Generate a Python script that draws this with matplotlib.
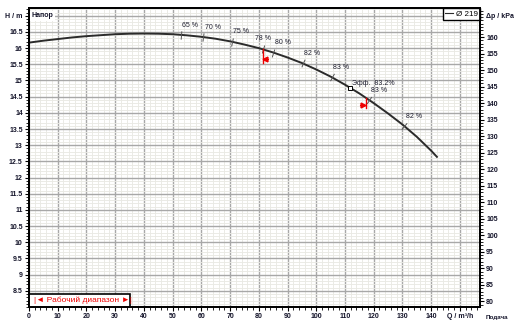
import numpy as np
import matplotlib
matplotlib.use('Agg')
import matplotlib.pyplot as plt
from matplotlib.lines import Line2D
from matplotlib.patches import Rectangle

plt.rcParams['font.family'] = ['Liberation Sans', 'DejaVu Sans']

# pump curve, impeller diameter 219
flow = [0, 5, 10, 15, 20, 25, 30, 35, 40, 45, 50, 55, 60, 65, 70, 75, 80,
        85, 90, 95, 100, 105, 110, 115, 120, 125, 130, 135, 140, 142]
head = [16.17, 16.23, 16.28, 16.33, 16.37, 16.40, 16.43, 16.445, 16.45, 16.445,
        16.43, 16.395, 16.35, 16.29, 16.21, 16.11, 16.00, 15.865, 15.71, 15.54,
        15.34, 15.12, 14.87, 14.60, 14.30, 13.98, 13.64, 13.26, 12.83, 12.64]

# efficiency marks on the curve
eff_flow = [52.8, 60.7, 70.6, 81.4, 85.1, 95.3, 105.4, 118.5, 130.6]
eff_text = ['65 %', '70 %', '75 %', '78 %', '80 %', '82 %', '83 %', '83 %', '82 %']

# best efficiency point
bep_flow = 111.8
bep_text = 'Эфф.  83.2%'

# working range
range_start = 81.4
range_end = 117.2

x_ticks = list(range(0, 160, 10))
x_labels = [str(v) for v in range(0, 150, 10)] + ['Q / m³/h']
h_ticks = [8.5 + 0.5 * i for i in range(18)]
h_labels = ['%g' % v for v in h_ticks[:-1]] + ['H / m']
kpa_ticks = list(range(80, 165, 5))

KPA_PER_M = 9.79
XMAX = 157
HMIN, HMAX = 8.0, 17.24

txt_col = '#14142a'

fig = plt.figure(figsize=(5.19, 3.26), dpi=100)
ax = fig.add_axes([29 / 519, 19 / 326, 451 / 519, 299 / 326])
ax.set_xlim(0, XMAX)
ax.set_ylim(HMIN, HMAX)

# grid
ax.set_xticks(x_ticks)
ax.set_xticks(np.arange(0, XMAX, 2), minor=True)
ax.set_yticks(h_ticks)
ax.set_yticks(np.arange(8.0, HMAX, 0.1), minor=True)
ax.set_xticklabels(x_labels)
ax.set_yticklabels(h_labels)
ax.grid(which='major', color='#a8a8a8', lw=1.0, zorder=0)
ax.grid(which='minor', color='#e9e9e4', lw=0.65, zorder=0)
ax.set_axisbelow(True)

ax.tick_params(which='major', length=3, width=0.8, color='black',
               labelsize=5, labelcolor=txt_col, pad=1.5)
ax.tick_params(which='minor', length=2, width=0.6, color='black')
for lab in ax.get_xticklabels() + ax.get_yticklabels():
    lab.set_fontweight('bold')
for sp in ax.spines.values():
    sp.set_linewidth(1.3)

# right axis in kPa
ax2 = ax.twinx()
ax2.set_ylim(HMIN * KPA_PER_M, HMAX * KPA_PER_M)
ax2.set_yticks(kpa_ticks)
ax2.set_yticks(np.arange(79, HMAX * KPA_PER_M, 1), minor=True)
ax2.tick_params(which='major', length=3, width=0.8, labelsize=5,
                labelcolor=txt_col, pad=1.5)
ax2.tick_params(which='minor', length=2, width=0.6)
for lab in ax2.get_yticklabels():
    lab.set_fontweight('bold')
for sp in ax2.spines.values():
    sp.set_linewidth(1.3)
fig.text(486 / 519, 1 - 16 / 326, 'Δp / kPa', fontsize=5, fontweight='bold',
         color=txt_col, va='center', ha='left')
fig.text(486 / 519, 1 - 318 / 326, 'Подача', fontsize=4.5, fontweight='bold',
         color=txt_col, va='center', ha='left')

# the curve
curve, = ax.plot(flow, head, color='#2b2b2b', lw=1.4, zorder=3)

# efficiency ticks, perpendicular to the curve on screen
def screen_angle(q):
    p = ax.transData.transform([(q - 1, np.interp(q - 1, flow, head)),
                                (q + 1, np.interp(q + 1, flow, head))])
    d = p[1] - p[0]
    return np.degrees(np.arctan2(d[1], d[0]))

eff_head = np.interp(eff_flow, flow, head)
for q, h, t in zip(eff_flow, eff_head, eff_text):
    ang = screen_angle(q)
    ax.plot(q, h, marker=(2, 0, ang), ms=6, mec='#555555', mew=0.7, zorder=4)
    off = (-5.5, 8) if t == '78 %' else (1, 7)
    ax.annotate(t, (q, h), xytext=off, textcoords='offset points',
                fontsize=5, color='#202030', va='center', ha='left', zorder=5)

# best efficiency point
bep_head = np.interp(bep_flow, flow, head)
ax.plot(bep_flow, bep_head, marker='s', ms=3.2, mfc='white', mec='black',
        mew=0.7, zorder=5)
ax.annotate(bep_text, (bep_flow, bep_head), xytext=(1.2, 3),
            textcoords='offset points', fontsize=5, color='#202030',
            va='center', ha='left', zorder=5)

# working range limits
red = '#ee0000'
h0 = np.interp(range_start, flow, head)
ax.plot([range_start, range_start], [h0, h0 - 0.41], color=red, lw=1.0, zorder=4)
ax.plot([range_start, range_start + 1.9], [h0 - 0.30, h0 - 0.30], color=red, lw=0.8, zorder=4)
ax.plot(range_start + 0.9, h0 - 0.30, marker='<', ms=3.5, color=red, zorder=4)
h1 = np.interp(range_end, flow, head)
ax.plot([range_end, range_end], [h1, h1 - 0.32], color=red, lw=1.0, zorder=4)
ax.plot([range_end - 1.9, range_end], [h1 - 0.24, h1 - 0.24], color=red, lw=0.8, zorder=4)
ax.plot(range_end - 0.9, h1 - 0.24, marker='>', ms=3.5, color=red, zorder=4)

# legend
leg = ax.legend([Line2D([], [], color='#2b2b2b', lw=0.8)], ['Ø 219'],
                loc='upper right', borderaxespad=0, fancybox=False,
                edgecolor='black', framealpha=1, fontsize=5.8,
                handlelength=1.0, handletextpad=0.4, borderpad=0.25)
leg.get_frame().set_linewidth(1.0)
leg.set_zorder(10)

# "Напор" title box
ax.text(0.006, 0.985, 'Напор', transform=ax.transAxes, fontsize=5,
        fontweight='bold', color=txt_col, va='top', ha='left', zorder=10,
        bbox=dict(boxstyle='square,pad=0.25', fc='white', ec='none'))

# working range legend box
ax.add_patch(Rectangle((0, 0), 101 / 451, 13 / 299, transform=ax.transAxes,
                       fc='white', ec='black', lw=1.2, zorder=10))
ax.text(54 / 451, 6.5 / 299, '|◄ Рабочий диапазон ►|', transform=ax.transAxes,
        fontsize=6, color=red, va='center', ha='center', zorder=11)

fig.savefig('out.png', dpi=100)
